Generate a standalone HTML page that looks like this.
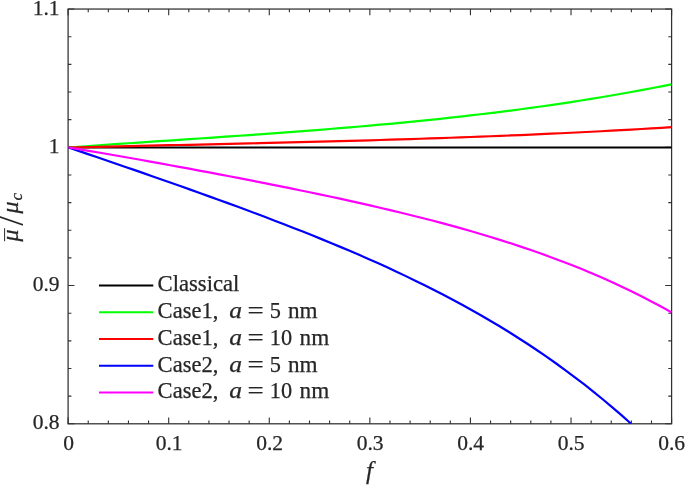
<!DOCTYPE html>
<html><head><meta charset="utf-8"><title>plot</title>
<style>html,body{margin:0;padding:0;background:#fff}svg{display:block}</style></head>
<body>
<svg width="685" height="485" viewBox="0 0 685 485">
<rect width="685" height="485" fill="#fff"/>
<g stroke="#303030" stroke-width="1.25" fill="none">
<rect x="68.1" y="9.05" width="603.50" height="414.75"/>
<path d="M68.10 423.8v-6.3M68.10 9.05v6.3M88.22 423.8v-3.3M88.22 9.05v3.3M108.33 423.8v-3.3M108.33 9.05v3.3M128.45 423.8v-3.3M128.45 9.05v3.3M148.57 423.8v-3.3M148.57 9.05v3.3M168.68 423.8v-6.3M168.68 9.05v6.3M188.80 423.8v-3.3M188.80 9.05v3.3M208.92 423.8v-3.3M208.92 9.05v3.3M229.03 423.8v-3.3M229.03 9.05v3.3M249.15 423.8v-3.3M249.15 9.05v3.3M269.27 423.8v-6.3M269.27 9.05v6.3M289.38 423.8v-3.3M289.38 9.05v3.3M309.50 423.8v-3.3M309.50 9.05v3.3M329.62 423.8v-3.3M329.62 9.05v3.3M349.73 423.8v-3.3M349.73 9.05v3.3M369.85 423.8v-6.3M369.85 9.05v6.3M389.97 423.8v-3.3M389.97 9.05v3.3M410.08 423.8v-3.3M410.08 9.05v3.3M430.20 423.8v-3.3M430.20 9.05v3.3M450.32 423.8v-3.3M450.32 9.05v3.3M470.43 423.8v-6.3M470.43 9.05v6.3M490.55 423.8v-3.3M490.55 9.05v3.3M510.67 423.8v-3.3M510.67 9.05v3.3M530.78 423.8v-3.3M530.78 9.05v3.3M550.90 423.8v-3.3M550.90 9.05v3.3M571.02 423.8v-6.3M571.02 9.05v6.3M591.13 423.8v-3.3M591.13 9.05v3.3M611.25 423.8v-3.3M611.25 9.05v3.3M631.37 423.8v-3.3M631.37 9.05v3.3M651.48 423.8v-3.3M651.48 9.05v3.3M671.60 423.8v-6.3M671.60 9.05v6.3M68.1 423.80h6.3M671.6 423.80h-6.3M68.1 396.15h3.3M671.6 396.15h-3.3M68.1 368.50h3.3M671.6 368.50h-3.3M68.1 340.85h3.3M671.6 340.85h-3.3M68.1 313.20h3.3M671.6 313.20h-3.3M68.1 285.55h6.3M671.6 285.55h-6.3M68.1 257.90h3.3M671.6 257.90h-3.3M68.1 230.25h3.3M671.6 230.25h-3.3M68.1 202.60h3.3M671.6 202.60h-3.3M68.1 174.95h3.3M671.6 174.95h-3.3M68.1 147.30h6.3M671.6 147.30h-6.3M68.1 119.65h3.3M671.6 119.65h-3.3M68.1 92.00h3.3M671.6 92.00h-3.3M68.1 64.35h3.3M671.6 64.35h-3.3M68.1 36.70h3.3M671.6 36.70h-3.3M68.1 9.05h6.3M671.6 9.05h-6.3" stroke-width="1.1"/>
</g>
<g fill="none" stroke-width="2.2" stroke-linejoin="round">
<path d="M68.5 147.50 L671.5 147.50" stroke="#000"/>
<path d="M68.50 147.50 L78.55 146.77 L88.60 146.05 L98.65 145.34 L108.70 144.64 L118.75 143.95 L128.80 143.26 L138.85 142.57 L148.90 141.89 L158.95 141.21 L169.00 140.54 L179.05 139.86 L189.10 139.18 L199.15 138.50 L209.20 137.82 L219.25 137.13 L229.30 136.44 L239.35 135.74 L249.40 135.04 L259.45 134.33 L269.50 133.60 L279.55 132.87 L289.60 132.12 L299.65 131.36 L309.70 130.59 L319.75 129.80 L329.80 129.00 L339.85 128.18 L349.90 127.34 L359.95 126.48 L370.00 125.60 L380.05 124.70 L390.10 123.78 L400.15 122.83 L410.20 121.86 L420.25 120.86 L430.30 119.84 L440.35 118.79 L450.40 117.71 L460.45 116.59 L470.50 115.45 L480.55 114.27 L490.60 113.07 L500.65 111.82 L510.70 110.54 L520.75 109.22 L530.80 107.87 L540.85 106.48 L550.90 105.04 L560.95 103.57 L571.00 102.05 L581.05 100.49 L591.10 98.89 L601.15 97.24 L611.20 95.54 L621.25 93.79 L631.30 92.00 L641.35 90.16 L651.40 88.26 L661.45 86.32 L671.50 84.32" stroke="#00ff00"/>
<path d="M68.50 147.50 L78.55 147.26 L88.60 147.03 L98.65 146.80 L108.70 146.57 L118.75 146.34 L128.80 146.12 L138.85 145.89 L148.90 145.67 L158.95 145.45 L169.00 145.22 L179.05 145.00 L189.10 144.78 L199.15 144.55 L209.20 144.33 L219.25 144.10 L229.30 143.87 L239.35 143.64 L249.40 143.41 L259.45 143.17 L269.50 142.93 L279.55 142.69 L289.60 142.44 L299.65 142.19 L309.70 141.94 L319.75 141.68 L329.80 141.42 L339.85 141.15 L349.90 140.87 L359.95 140.59 L370.00 140.31 L380.05 140.01 L390.10 139.71 L400.15 139.40 L410.20 139.09 L420.25 138.77 L430.30 138.43 L440.35 138.09 L450.40 137.75 L460.45 137.39 L470.50 137.02 L480.55 136.64 L490.60 136.26 L500.65 135.86 L510.70 135.45 L520.75 135.03 L530.80 134.60 L540.85 134.15 L550.90 133.70 L560.95 133.23 L571.00 132.75 L581.05 132.26 L591.10 131.75 L601.15 131.23 L611.20 130.70 L621.25 130.15 L631.30 129.58 L641.35 129.01 L651.40 128.41 L661.45 127.80 L671.50 127.18" stroke="#ff0000"/>
<path d="M68.50 147.50 L77.87 150.66 L87.24 153.84 L96.61 157.03 L105.99 160.23 L115.36 163.45 L124.73 166.67 L134.10 169.91 L143.47 173.16 L152.84 176.43 L162.22 179.70 L171.59 183.00 L180.96 186.31 L190.33 189.64 L199.70 192.98 L209.07 196.35 L218.45 199.74 L227.82 203.15 L237.19 206.59 L246.56 210.06 L255.93 213.56 L265.30 217.09 L274.68 220.66 L284.05 224.26 L293.42 227.91 L302.79 231.60 L312.16 235.33 L321.53 239.12 L330.91 242.96 L340.28 246.86 L349.65 250.82 L359.02 254.85 L368.39 258.95 L377.76 263.12 L387.14 267.37 L396.51 271.70 L405.88 276.13 L415.25 280.64 L424.62 285.25 L433.99 289.96 L443.37 294.79 L452.74 299.72 L462.11 304.78 L471.48 309.96 L480.85 315.27 L490.22 320.72 L499.59 326.31 L508.97 332.06 L518.34 337.95 L527.71 344.02 L537.08 350.25 L546.45 356.66 L555.82 363.25 L565.20 370.03 L574.57 377.02 L583.94 384.21 L593.31 391.61 L602.68 399.24 L612.05 407.09 L621.43 415.19 L630.80 423.53" stroke="#0000ff"/>
<path d="M68.50 147.50 L78.55 149.15 L88.60 150.83 L98.65 152.53 L108.70 154.25 L118.75 155.99 L128.80 157.75 L138.85 159.53 L148.90 161.33 L158.95 163.14 L169.00 164.97 L179.05 166.81 L189.10 168.67 L199.15 170.55 L209.20 172.44 L219.25 174.34 L229.30 176.26 L239.35 178.20 L249.40 180.15 L259.45 182.12 L269.50 184.11 L279.55 186.12 L289.60 188.15 L299.65 190.21 L309.70 192.29 L319.75 194.39 L329.80 196.53 L339.85 198.69 L349.90 200.89 L359.95 203.13 L370.00 205.40 L380.05 207.72 L390.10 210.08 L400.15 212.49 L410.20 214.95 L420.25 217.47 L430.30 220.05 L440.35 222.68 L450.40 225.39 L460.45 228.17 L470.50 231.02 L480.55 233.95 L490.60 236.97 L500.65 240.08 L510.70 243.29 L520.75 246.59 L530.80 250.00 L540.85 253.52 L550.90 257.17 L560.95 260.93 L571.00 264.82 L581.05 268.85 L591.10 273.03 L601.15 277.35 L611.20 281.83 L621.25 286.47 L631.30 291.28 L641.35 296.27 L651.40 301.44 L661.45 306.81 L671.50 312.38" stroke="#ff00ff"/>
</g>
<g font-family="'Liberation Serif', serif" font-size="21.5" fill="#262626" stroke="#262626" stroke-width="0.25">
<text x="68.6" y="450.4" text-anchor="middle">0</text>
<text x="169.1" y="450.4" text-anchor="middle">0.1</text>
<text x="269.6" y="450.4" text-anchor="middle">0.2</text>
<text x="370.1" y="450.4" text-anchor="middle">0.3</text>
<text x="470.6" y="450.4" text-anchor="middle">0.4</text>
<text x="571.1" y="450.4" text-anchor="middle">0.5</text>
<text x="671.6" y="450.4" text-anchor="middle">0.6</text>
<text x="59.5" y="14.9" text-anchor="end">1.1</text>
<text x="59.5" y="152.9" text-anchor="end">1</text>
<text x="59.5" y="290.9" text-anchor="end">0.9</text>
<text x="59.5" y="428.9" text-anchor="end">0.8</text>
</g>
<g font-family="'Liberation Serif', serif" font-size="22.3" fill="#262626" stroke="#262626" stroke-width="0.25">
<path d="M99 285.5H153.3" stroke="#000" stroke-width="2" fill="none"/>
<text x="157.6" y="291.4" textLength="81.8" lengthAdjust="spacingAndGlyphs">Classical</text>
<path d="M99 312.3H153.3" stroke="#00ff00" stroke-width="2" fill="none"/>
<text x="157.6" y="318.2" textLength="60.8" lengthAdjust="spacingAndGlyphs">Case1,</text>
<text x="229.3" y="318.2" font-style="italic" textLength="12.8" lengthAdjust="spacingAndGlyphs">a</text>
<text x="247.6" y="318.2" textLength="16.2" lengthAdjust="spacingAndGlyphs">=</text>
<text x="269.8" y="318.2">5</text>
<text x="288" y="318.2" textLength="29.6" lengthAdjust="spacingAndGlyphs">nm</text>
<path d="M99 339H153.3" stroke="#ff0000" stroke-width="2" fill="none"/>
<text x="157.6" y="344.9" textLength="60.8" lengthAdjust="spacingAndGlyphs">Case1,</text>
<text x="229.3" y="344.9" font-style="italic" textLength="12.8" lengthAdjust="spacingAndGlyphs">a</text>
<text x="247.6" y="344.9" textLength="16.2" lengthAdjust="spacingAndGlyphs">=</text>
<text x="269.8" y="344.9">10</text>
<text x="299.6" y="344.9" textLength="29.6" lengthAdjust="spacingAndGlyphs">nm</text>
<path d="M99 365.8H153.3" stroke="#0000ff" stroke-width="2" fill="none"/>
<text x="157.6" y="371.7" textLength="60.8" lengthAdjust="spacingAndGlyphs">Case2,</text>
<text x="229.3" y="371.7" font-style="italic" textLength="12.8" lengthAdjust="spacingAndGlyphs">a</text>
<text x="247.6" y="371.7" textLength="16.2" lengthAdjust="spacingAndGlyphs">=</text>
<text x="269.8" y="371.7">5</text>
<text x="288" y="371.7" textLength="29.6" lengthAdjust="spacingAndGlyphs">nm</text>
<path d="M99 392.5H153.3" stroke="#ff00ff" stroke-width="2" fill="none"/>
<text x="157.6" y="398.4" textLength="60.8" lengthAdjust="spacingAndGlyphs">Case2,</text>
<text x="229.3" y="398.4" font-style="italic" textLength="12.8" lengthAdjust="spacingAndGlyphs">a</text>
<text x="247.6" y="398.4" textLength="16.2" lengthAdjust="spacingAndGlyphs">=</text>
<text x="269.8" y="398.4">10</text>
<text x="299.6" y="398.4" textLength="29.6" lengthAdjust="spacingAndGlyphs">nm</text>
</g>
<text x="369.5" y="479.2" text-anchor="middle" font-family="'Liberation Serif', serif" font-style="italic" font-size="25" fill="#262626" stroke="#262626" stroke-width="0.25">f</text>
<g transform="translate(17.6 241.5) rotate(-90)" font-family="'Liberation Serif', serif" font-style="italic" font-size="24" fill="#262626" stroke="#262626" stroke-width="0.25">
<text x="0" y="0">μ</text>
<path d="M0.3 -13 H13.3" stroke="#262626" stroke-width="1" fill="none"/>
<text x="15.8" y="5.5" font-style="normal" font-size="36" stroke="none">/</text>
<text x="28" y="0">μ</text>
<text x="41" y="4" font-size="17">c</text>
</g>
</svg>
</body></html>
